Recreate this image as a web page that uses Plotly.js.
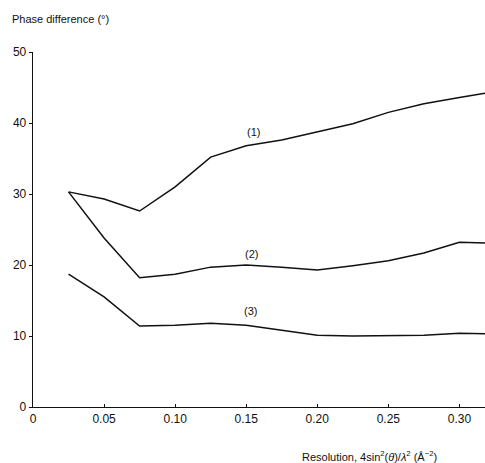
<!DOCTYPE html>
<html>
<head>
<meta charset="utf-8">
<script src="https://cdn.plot.ly/plotly-3.0.1.min.js"></script>
<style>html,body{margin:0;padding:0;background:#fff;}#chart{width:485px;height:463px;}</style>
</head>
<body>
<div id="chart"></div>
<script>
// Resolution values (4 sin^2(theta) / lambda^2)
const resolution = [0.025, 0.05, 0.075, 0.10, 0.125, 0.15, 0.175, 0.20, 0.225, 0.25, 0.275, 0.30, 0.318];
// Phase difference (degrees) for each curve
const curve1 = [30.3, 29.3, 27.6, 31.0, 35.2, 36.8, 37.6, 38.7, 39.9, 41.5, 42.7, 43.6, 44.2];
const curve2 = [30.3, 23.8, 18.2, 18.7, 19.7, 20.0, 19.7, 19.3, 19.9, 20.6, 21.7, 23.2, 23.1];
const curve3 = [18.7, 15.5, 11.4, 11.5, 11.8, 11.5, 10.8, 10.1, 10.0, 10.0, 10.1, 10.4, 10.3];
const curveNames = ["(1)", "(2)", "(3)"];
const labelX = [0.155, 0.154, 0.153];
const labelY = [38.7, 21.5, 13.5];
const xTickVals = [0, 0.05, 0.10, 0.15, 0.20, 0.25, 0.30];
const xTickText = ["0", "0.05", "0.10", "0.15", "0.20", "0.25", "0.30"];
const yTickVals = [0, 10, 20, 30, 40, 50];

const font = "'Liberation Sans', Arial, sans-serif";
const series = [curve1, curve2, curve3];
const traces = series.map((ys, i) => ({
  x: resolution, y: ys, type: 'scatter', mode: 'lines', name: curveNames[i],
  line: {color: '#111', width: 1.5}, showlegend: false, hoverinfo: 'skip'
}));

const annotations = curveNames.map((t, i) => ({
  x: labelX[i], y: labelY[i], xref: 'x', yref: 'y', text: t, showarrow: false,
  font: {family: font, size: 11, color: '#111'}
}));
annotations.push({
  x: -0.05, y: 1.093, xref: 'paper', yref: 'paper', xanchor: 'left', yanchor: 'middle',
  text: 'Phase difference (°)', showarrow: false, font: {family: font, size: 11, color: '#111'}
});
annotations.push({
  x: 0.745, y: -0.138, xref: 'paper', yref: 'paper', xanchor: 'center', yanchor: 'middle',
  text: 'Resolution, 4sin<sup>2</sup>(<i>θ</i>)/<i>λ</i><sup>2</sup> (Å<sup>−2</sup>)', showarrow: false,
  font: {family: font, size: 11, color: '#111'}
});

const layout = {
  width: 485, height: 463,
  margin: {l: 33, r: 0, t: 52, b: 56},
  paper_bgcolor: '#fff', plot_bgcolor: '#fff',
  font: {family: font, size: 12, color: '#111'},
  xaxis: {
    range: [0, 0.318], tickvals: xTickVals, ticktext: xTickText,
    showline: true, linecolor: '#111', linewidth: 1.3, showgrid: false, zeroline: false,
    ticks: 'inside', ticklen: 3, tickcolor: '#111', tickfont: {family: font, size: 12, color: '#111'}
  },
  yaxis: {
    range: [0, 50], tickvals: yTickVals,
    showline: true, linecolor: '#111', linewidth: 1.3, showgrid: false, zeroline: false,
    ticks: 'outside', ticklen: 3, tickcolor: '#111', tickfont: {family: font, size: 12, color: '#111'}
  },
  annotations: annotations,
  showlegend: false
};

Plotly.newPlot('chart', traces, layout, {displayModeBar: false, staticPlot: true});
</script>
</body>
</html>
